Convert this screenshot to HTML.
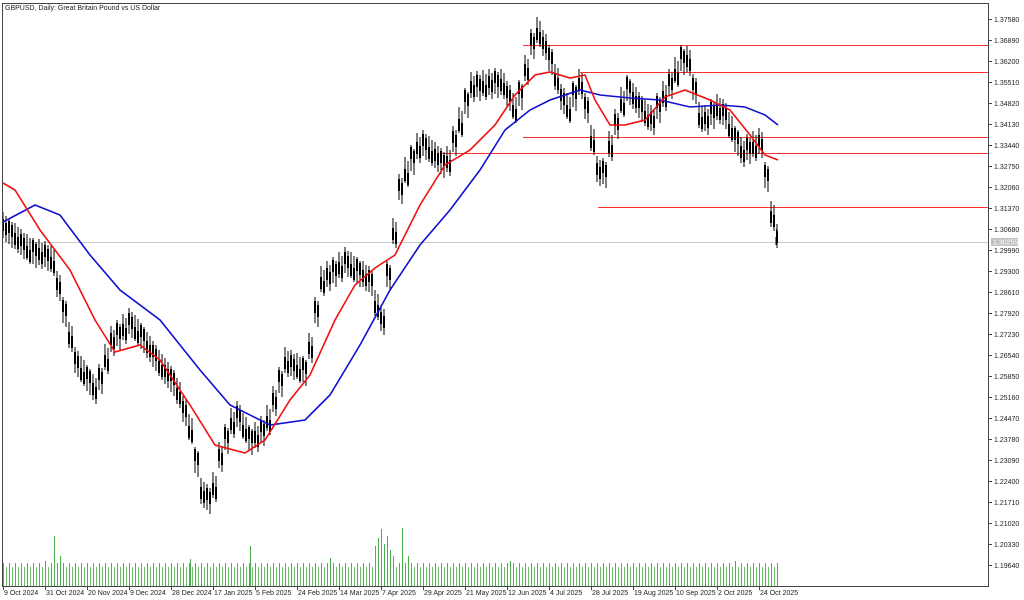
<!DOCTYPE html><html><head><meta charset="utf-8"><style>
body{margin:0;background:#fff;width:1024px;height:600px;overflow:hidden}
svg{display:block}
text{font-family:"Liberation Sans",sans-serif;font-size:7px;fill:#222}
</style></head><body>
<svg width="1024" height="600" xmlns="http://www.w3.org/2000/svg" xmlns:xlink="http://www.w3.org/1999/xlink">
<defs>
<pattern id="vp" x="3" y="0" width="6" height="600" patternUnits="userSpaceOnUse">
<line x1="0.5" y1="586" x2="0.5" y2="563" stroke="#4caf50" stroke-width="1"/>
<line x1="3.5" y1="586" x2="3.5" y2="567" stroke="#6cc06c" stroke-width="1"/>
</pattern>
</defs>
<rect x="0" y="0" width="1024" height="600" fill="#fff"/>
<text x="5" y="10">GBPUSD, Daily:  Great Britain Pound vs US Dollar</text>
<line x1="3" y1="242.5" x2="988" y2="242.5" stroke="#c8c8c8"/>
<g stroke="#ff3030" stroke-width="1">
<line x1="523" y1="45.5" x2="988" y2="45.5"/>
<line x1="580" y1="72.5" x2="988" y2="72.5"/>
<line x1="523" y1="137.5" x2="988" y2="137.5"/>
<line x1="440" y1="153.5" x2="988" y2="153.5"/>
<line x1="598" y1="207.5" x2="988" y2="207.5"/>
</g>
<rect x="3" y="560" width="776" height="26" fill="url(#vp)"/>
<path stroke="#4caf50" stroke-width="1" fill="none" d="M54.5 586v-50M45.5 586v-25M250.5 586v-40M375.5 586v-40M378.5 586v-48M381.5 586v-57M384.5 586v-42M387.5 586v-50M390.5 586v-36M393.5 586v-30M402.5 586v-58M408.5 586v-30M510.5 586v-25M735.5 586v-25M60.5 586v-30M190.5 586v-27M330.5 586v-28"/>
<g id="c">
<path stroke="#000" stroke-width="1" fill="none" d="M3 212v26M9 218v26M15 223v26M21 229v26M27 234v26M33 238v26M39 239v26M45 241v26M51 246v26M57 271v26M63 297v26M69 322v26M75 347v26M81 356v26M87 365v26M93 374v26M99 364v26M105 344v26M111 326v26M117 320v26M123 314v26M129 308v26M135 315v26M141 323v26M147 332v26M153 341v26M159 350v26M165 358v26M171 366v26M177 378v26M183 396v26M189 414v26M195 447v26M201 478v26M207 484v26M213 472v26M219 442v26M225 424v26M231 408v26M237 401v26M243 413v26M249 425v26M255 422v26M261 416v26M267 405v26M273 386v26M279 367v26M285 347v26M291 350v26M297 353v26M303 356v26M309 333v26M315 297v26M321 266v26M327 261v26M333 257v26M339 252v26M345 247v26M351 252v26M357 257v26M363 261v26M369 266v26M375 290v26M381 305v26M387 261v26M393 218v26M399 174v26M405 157v26M411 145v26M417 133v26M423 130v26M429 136v26M435 142v26M441 148v26M447 146v26M453 126v26M459 107v26M465 88v26M471 72v26M477 71v26M483 70v26M489 69v26M495 68v26M501 69v26M507 81v26M513 93v26M519 80v26M525 55v26M531 29v26M537 17v26M543 30v26M549 45v26M555 64v26M561 84v26M567 93v26M573 81v26M579 69v26M585 93v26M591 125v26M597 156v26M603 158v26M609 131v26M615 109v26M621 87v26M627 75v26M633 83v26M639 92v26M645 100v26M651 105v26M657 93v26M663 81v26M669 69v26M675 57v26M681 45v26M687 46v26M693 74v26M699 102v26M705 105v26M711 99v26M717 94v26M723 99v26M729 112v26M735 126v26M741 137v26M747 134v26M753 131v26M759 128v26M765 162v26M771 201v26"/>
<path stroke="#000" stroke-width="2" fill="none" d="M3 219v12M9 221v12M15 233v12M21 234v12M27 246v12M33 240v12M39 248v12M45 245v12M51 257v12M57 278v12M63 300v12M69 332v12M75 352v12M81 368v12M87 367v12M93 383v12M99 368v12M105 355v12M111 333v12M117 323v12M123 324v12M129 313v12M135 327v12M141 325v12M147 341v12M153 345v12M159 361v12M165 365v12M171 369v12M177 388v12M183 401v12M189 426v12M195 449v12M201 487v12M207 488v12M213 483v12M219 449v12M225 427v12M231 418v12M237 406v12M243 425v12M249 427v12M255 431v12M261 420v12M267 416v12M273 393v12M279 370v12M285 357v12M291 355v12M297 365v12M303 358v12M309 342v12M315 301v12M321 277v12M327 268v12M333 260v12M339 262v12M345 252v12M351 264v12M357 259v12M363 270v12M369 270v12M375 301v12M381 312v12M387 264v12M393 228v12M399 179v12M405 169v12M411 147v12M417 142v12M423 134v12M429 147v12M435 149v12M441 151v12M447 156v12M453 131v12M459 119v12M465 90v12M471 81v12M477 75v12M483 81v12M489 76v12M495 71v12M501 79v12M507 86v12M513 105v12M519 82v12M525 64v12M531 33v12M537 28v12M543 37v12M549 48v12M555 74v12M561 89v12M567 105v12M573 83v12M579 78v12M585 97v12M591 136v12M597 163v12M603 161v12M609 141v12M615 114v12M621 99v12M627 77v12M633 92v12M639 96v12M645 111v12M651 112v12M657 96v12M663 91v12M669 74v12M675 69v12M681 47v12M687 55v12M693 78v12M699 113v12M705 112v12M711 102v12M717 104v12M723 104v12M729 124v12M735 128v12M741 146v12M747 138v12M753 142v12M759 135v12M765 165v12M771 211v12"/>
</g>
<use xlink:href="#c" href="#c" transform="translate(3,4)"/>
<path stroke="#000" stroke-width="1" fill="none" d="M777 224v24M776 237v8M776.5 229v14"/>
<path stroke="#000" stroke-width="2" fill="none" d="M777 231v12"/>
<polyline fill="none" stroke="#1010d0" stroke-width="1.6" points="3,222 35,205 60,215 90,255 120,290 160,320 200,370 230,405 270,425 305,420 330,395 360,345 390,290 420,245 450,210 480,170 505,130 530,110 550,100 580,90 600,95 630,98 660,100 690,107 720,105 745,107 765,115 778,125"/>
<polyline fill="none" stroke="#f01010" stroke-width="1.6" points="3,183 15,190 40,230 70,270 95,320 115,352 140,345 160,360 190,405 215,445 245,453 265,440 290,400 310,375 335,320 355,285 375,268 395,255 420,205 445,165 470,150 495,125 515,95 535,75 550,72 570,78 585,75 595,100 610,125 625,125 645,120 665,97 685,90 710,100 730,110 750,135 765,155 778,160"/>
<rect x="2.5" y="3.5" width="986" height="583" fill="none" stroke="#444" stroke-width="1"/>
<g stroke="#444">
<path d="M989 19.5h3M989 40.5h3M989 61.5h3M989 82.5h3M989 103.5h3M989 124.5h3M989 145.5h3M989 166.5h3M989 187.5h3M989 208.5h3M989 229.5h3M989 250.5h3M989 271.5h3M989 292.5h3M989 313.5h3M989 334.5h3M989 355.5h3M989 376.5h3M989 397.5h3M989 418.5h3M989 439.5h3M989 460.5h3M989 481.5h3M989 502.5h3M989 523.5h3M989 544.5h3M989 565.5h3"/>
<path d="M3.5 587v3M45.5 587v3M87.5 587v3M129.5 587v3M171.5 587v3M213.5 587v3M255.5 587v3M297.5 587v3M339.5 587v3M381.5 587v3M423.5 587v3M465.5 587v3M507.5 587v3M549.5 587v3M591.5 587v3M633.5 587v3M675.5 587v3M717.5 587v3M759.5 587v3"/>
</g>
<g>
<text x="994" y="22">1.37580</text><text x="994" y="43">1.36890</text><text x="994" y="64">1.36200</text><text x="994" y="85">1.35510</text><text x="994" y="106">1.34820</text><text x="994" y="127">1.34130</text><text x="994" y="148">1.33440</text><text x="994" y="169">1.32750</text><text x="994" y="190">1.32060</text><text x="994" y="211">1.31370</text><text x="994" y="232">1.30680</text><text x="994" y="253">1.29990</text><text x="994" y="274">1.29300</text><text x="994" y="295">1.28610</text><text x="994" y="316">1.27920</text><text x="994" y="337">1.27230</text><text x="994" y="358">1.26540</text><text x="994" y="379">1.25850</text><text x="994" y="400">1.25160</text><text x="994" y="421">1.24470</text><text x="994" y="442">1.23780</text><text x="994" y="463">1.23090</text><text x="994" y="484">1.22400</text><text x="994" y="505">1.21710</text><text x="994" y="526">1.21020</text><text x="994" y="547">1.20330</text><text x="994" y="568">1.19640</text>
</g>
<rect x="991" y="238" width="27" height="8" fill="#c0c0c0"/><text x="993" y="244.5" style="fill:#fff">1.30255</text>
<g>
<text x="4" y="595">9 Oct 2024</text><text x="46" y="595">31 Oct 2024</text><text x="88" y="595">20 Nov 2024</text><text x="130" y="595">9 Dec 2024</text><text x="172" y="595">28 Dec 2024</text><text x="214" y="595">17 Jan 2025</text><text x="256" y="595">5 Feb 2025</text><text x="298" y="595">24 Feb 2025</text><text x="340" y="595">14 Mar 2025</text><text x="382" y="595">7 Apr 2025</text><text x="424" y="595">29 Apr 2025</text><text x="466" y="595">21 May 2025</text><text x="508" y="595">12 Jun 2025</text><text x="550" y="595">4 Jul 2025</text><text x="592" y="595">28 Jul 2025</text><text x="634" y="595">19 Aug 2025</text><text x="676" y="595">10 Sep 2025</text><text x="718" y="595">2 Oct 2025</text><text x="760" y="595">24 Oct 2025</text>
</g>
</svg>
</body></html>
